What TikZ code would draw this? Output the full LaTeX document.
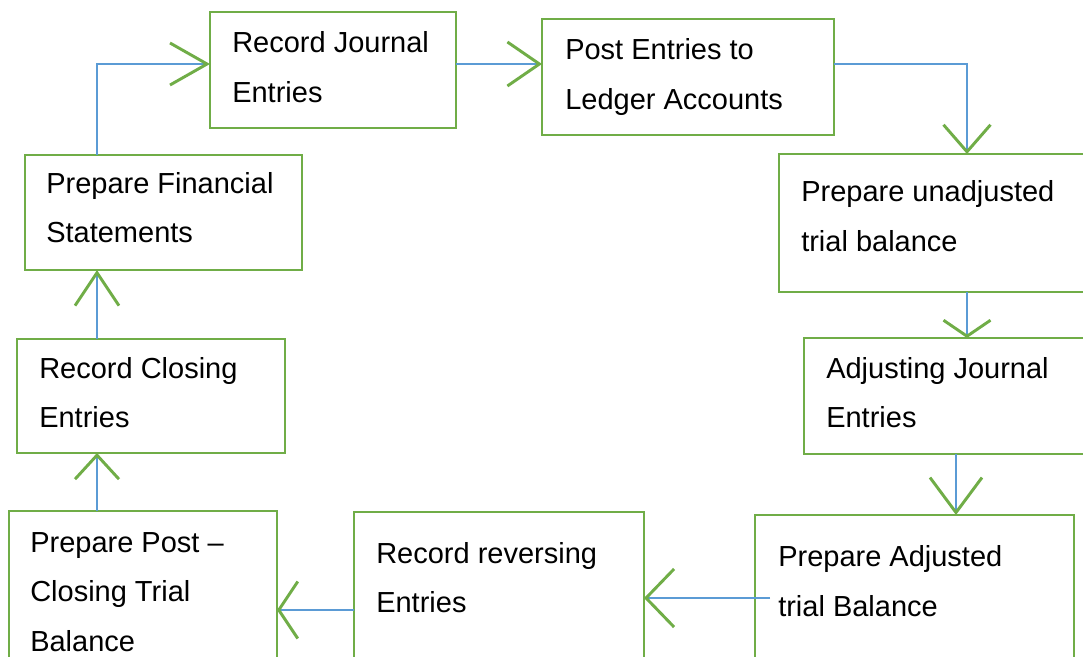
\documentclass[tikz,border=0pt]{standalone}
\usepackage{fontspec}
\setmainfont{Liberation Sans}
\usetikzlibrary{arrows.meta,fit}
\definecolor{boxgreen}{HTML}{70AD47}
\definecolor{linkblue}{HTML}{5B9BD5}
\tikzset{
  stepbox/.style={draw=boxgreen,line width=2.2pt,inner sep=0pt,outer sep=0pt},
  % placed by the baseline of the last line
  caption/.style={anchor=base west,inner sep=0pt,align=left,
    font=\fontsize{21.75pt}{37.1pt}\selectfont},
  link/.style={draw=linkblue,line width=0.9pt},
  vee/.style 2 args={-{Straight Barb[length=#1,width=#2,color=boxgreen,line width=2.2pt]}}
}
\begin{document}
\begin{tikzpicture}[x=0.75pt,y=-0.75pt]
  \useasboundingbox (0,0) rectangle (1083,657);
  \clip (0,0) rectangle (1083,657);

  % steps of the accounting cycle
  \node[stepbox,fit={(210,12) (456,128)}]   (b1) {};
  \node[stepbox,fit={(542,19) (834,135)}]   (b2) {};
  \node[stepbox,fit={(779,154) (1100,292)}] (b3) {};
  \node[stepbox,fit={(804,338) (1100,454)}] (b4) {};
  \node[stepbox,fit={(755,515) (1074,700)}] (b5) {};
  \node[stepbox,fit={(354,512) (644,700)}]  (b6) {};
  \node[stepbox,fit={(9,511) (277,700)}]    (b7) {};
  \node[stepbox,fit={(17,339) (285,453)}]   (b8) {};
  \node[stepbox,fit={(25,155) (302,270)}]   (b9) {};

  \node[caption] (t1) at (232,102)   {Record Journal\\Entries};
  \node[caption] (t2) at (565,109)   {Post Entries to\\Ledger Accounts};
  \node[caption] (t3) at (801,251)   {Prepare unadjusted\\trial balance};
  \node[caption] (t4) at (826,427.8) {Adjusting Journal\\Entries};
  \node[caption] (t5) at (778,616.2) {Prepare Adjusted\\trial Balance};
  \node[caption] (t6) at (376,612.8) {Record reversing\\Entries};
  \node[caption] (t7) at (30,651)    {Prepare Post –\\Closing Trial\\Balance};
  \node[caption] (t8) at (39,427.5)  {Record Closing\\Entries};
  \node[caption] (t9) at (46,242.8)  {Prepare Financial\\Statements};

  % routing points of the connectors
  \coordinate (railL) at (97,64);
  \coordinate (railR) at (967,64);
  \coordinate (railA) at (956,0);
  \coordinate (rowR)  at (770,598);
  \coordinate (rowP)  at (0,610);

  \draw[link,vee={27.75pt}{31.5pt}]  (b9.north -| railL) -- (railL) -- (b1.west |- railL);
  \draw[link,vee={24pt}{33pt}]       (b1.east |- railL) -- (b2.west |- railL);
  \draw[link,vee={20.25pt}{35.25pt}] (b2.east |- railL) -- (railR) -- (b3.north -| railR);
  \draw[link,vee={12pt}{35.25pt}]    (b3.south -| railR) -- (b4.north -| railR);
  \draw[link,vee={26.25pt}{39pt}]    (b4.south -| railA) -- (b5.north -| railA);
  \draw[link,vee={21pt}{43.5pt}]     (rowR) -- (rowR -| b6.east);
  \draw[link,vee={14.25pt}{42.75pt}] (b6.west |- rowP) -- (b7.east |- rowP);
  \draw[link,vee={18pt}{33pt}]       (b7.north -| railL) -- (b8.south -| railL);
  \draw[link,vee={24.75pt}{33pt}]    (b8.north -| railL) -- (b9.south -| railL);
\end{tikzpicture}
\end{document}
